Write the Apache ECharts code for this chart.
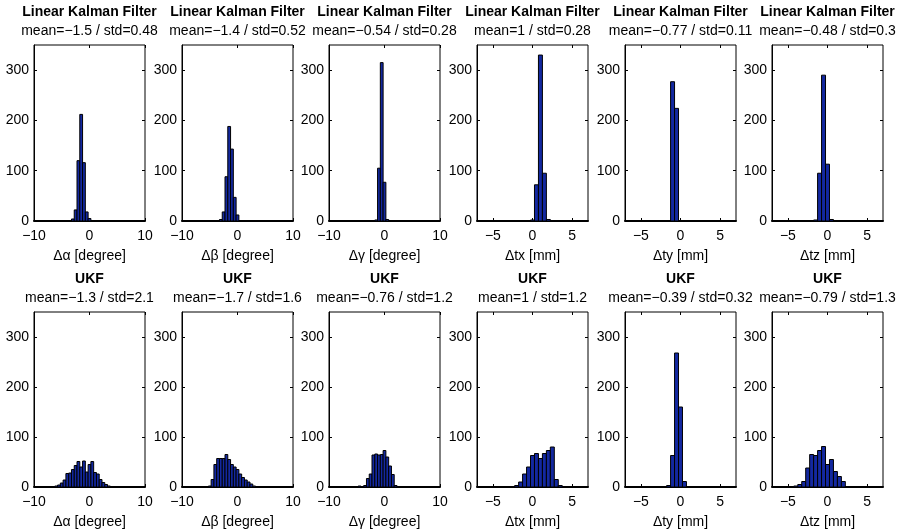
<!DOCTYPE html>
<html>
<head>
<meta charset="utf-8">
<title>Kalman filter error histograms</title>
<script src="https://cdn.jsdelivr.net/npm/echarts@6/dist/echarts.min.js"></script>
<style>
  html, body { margin: 0; padding: 0; background: #fff; }
  #chart { width: 905px; height: 530px; }
</style>
</head>
<body>
<div id="chart"></div>
<script>
// width of every histogram bin (degree or mm)
const binWidth = 0.5;

const rowTitles = ["Linear Kalman Filter", "UKF"];
const axisNames = ["Δα [degree]", "Δβ [degree]", "Δγ [degree]", "Δtx [mm]", "Δty [mm]", "Δtz [mm]"];
const lkfStats = ["mean=−1.5 / std=0.48", "mean=−1.4 / std=0.52", "mean=−0.54 / std=0.28",
                  "mean=1 / std=0.28", "mean=−0.77 / std=0.11", "mean=−0.48 / std=0.3"];
const ukfStats = ["mean=−1.3 / std=2.1", "mean=−1.7 / std=1.6", "mean=−0.76 / std=1.2",
                  "mean=1 / std=1.2", "mean=−0.39 / std=0.32", "mean=−0.79 / std=1.3"];

const angleTicks = [-10, 0, 10];
const transTicks = [-5, 0, 5];
const countTicks = [0, 100, 200, 300];

// Linear Kalman Filter: bin centres / counts
const lkfAlphaX = [-3, -2.5, -2, -1.5, -1, -0.5, 0];
const lkfAlphaN = [4, 22, 120, 212, 116, 18, 5];
const lkfBetaX = [-3, -2.5, -2, -1.5, -1, -0.5, 0];
const lkfBetaN = [3, 18, 88, 188, 143, 47, 12];
const lkfGammaX = [-1.5, -1, -0.5, 0, 0.5];
const lkfGammaN = [2, 105, 315, 77, 3];
const lkfTxX = [0, 0.5, 1, 1.5, 2];
const lkfTxN = [2, 72, 330, 95, 3];
const lkfTyX = [-1, -0.5];
const lkfTyN = [277, 224];
const lkfTzX = [-1.5, -1, -0.5, 0, 0.5];
const lkfTzN = [2, 95, 290, 113, 3];

// UKF: bin centres / counts
const ukfAlphaX = [-6.5, -6, -5.5, -5, -4.5, -4, -3.5, -3, -2.5, -2, -1.5, -1, -0.5, 0, 0.5, 1, 1.5, 2, 2.5, 3, 3.5];
const ukfAlphaN = [1, 2, 4, 8, 14, 27, 28, 35, 43, 51, 40, 52, 30, 45, 51, 29, 26, 15, 9, 5, 2];
const ukfBetaX = [-5, -4.5, -4, -3.5, -3, -2.5, -2, -1.5, -1, -0.5, 0, 0.5, 1, 1.5, 2, 2.5, 3];
const ukfBetaN = [2, 15, 45, 57, 57, 57, 65, 55, 45, 40, 35, 26, 19, 14, 10, 6, 2];
const ukfGammaX = [-4.5, -4, -3.5, -3, -2.5, -2, -1.5, -1, -0.5, 0, 0.5, 1, 1.5, 2];
const ukfGammaN = [2, 1, 3, 17, 26, 64, 66, 64, 65, 73, 60, 42, 25, 3];
const ukfTxX = [-2.5, -2, -1.5, -1, -0.5, 0, 0.5, 1, 1.5, 2, 2.5, 3, 3.5];
const ukfTxN = [1, 3, 10, 26, 40, 63, 67, 57, 67, 73, 80, 15, 3];
const ukfTyX = [-1.5, -1, -0.5, 0, 0.5];
const ukfTyN = [3, 63, 268, 160, 11];
const ukfTzX = [-4.5, -4, -3.5, -3, -2.5, -2, -1.5, -1, -0.5, 0, 0.5, 1, 1.5, 2, 2.5];
const ukfTzN = [1, 2, 5, 11, 38, 65, 63, 73, 81, 45, 55, 31, 21, 11, 1];

const panels = [
  [lkfAlphaX, lkfAlphaN], [lkfBetaX, lkfBetaN], [lkfGammaX, lkfGammaN],
  [lkfTxX, lkfTxN], [lkfTyX, lkfTyN], [lkfTzX, lkfTzN],
  [ukfAlphaX, ukfAlphaN], [ukfBetaX, ukfBetaN], [ukfGammaX, ukfGammaN],
  [ukfTxX, ukfTxN], [ukfTyX, ukfTyN], [ukfTzX, ukfTzN]
];
const stats = [lkfStats, ukfStats];

const font = "'Liberation Sans', Arial, Helvetica, sans-serif";
const barColor = "#1328a0";
const colLeft = [34, 182, 329, 477, 625, 772];
const plotW = 111;
const rowTop = [45, 312];
const rowH = [176, 175];

const minus = v => String(v).replace("-", "−");
const labelStyle = { color: "#000", fontSize: 14, fontFamily: font };

function renderBar(params, api) {
  const x = api.value(0);
  const n = api.value(1);
  const p0 = api.coord([x - binWidth / 2, n]);
  const p1 = api.coord([x + binWidth / 2, 0]);
  return {
    type: "rect",
    shape: { x: p0[0], y: p0[1], width: p1[0] - p0[0], height: p1[1] - p0[1] },
    style: { fill: barColor, stroke: "#000", lineWidth: 1 }
  };
}

const grid = [], xAxis = [], yAxis = [], series = [], graphic = [];

for (let r = 0; r < 2; r++) {
  for (let c = 0; c < 6; c++) {
    const k = r * 6 + c;
    const lim = c < 3 ? 10 : 7;
    const xt = c < 3 ? angleTicks : transTicks;
    const cx = colLeft[c] + plotW / 2;

    grid.push({
      left: colLeft[c], top: rowTop[r], width: plotW, height: rowH[r],
      show: true, borderColor: "#000", borderWidth: 1, backgroundColor: "#fff"
    });

    // bottom and top x axes
    xAxis.push({
      gridIndex: k, type: "value", min: -lim, max: lim, position: "bottom",
      name: axisNames[c], nameLocation: "middle", nameGap: 28,
      nameTextStyle: labelStyle,
      axisLine: { show: true, onZero: false, lineStyle: { color: "#000", width: 2 } },
      axisTick: { show: true, inside: true, length: 3, customValues: xt, lineStyle: { color: "#000" } },
      axisLabel: Object.assign({ customValues: xt, margin: 8, formatter: minus }, labelStyle),
      splitLine: { show: false }
    });
    xAxis.push({
      gridIndex: k, type: "value", min: -lim, max: lim, position: "top",
      axisLine: { show: false, onZero: false },
      axisTick: { show: true, inside: true, length: 3, customValues: xt, lineStyle: { color: "#000" } },
      axisLabel: { show: false },
      splitLine: { show: false }
    });

    // left and right y axes
    yAxis.push({
      gridIndex: k, type: "value", min: 0, max: 350, position: "left",
      axisLine: { show: true, onZero: false, lineStyle: { color: "#000" } },
      axisTick: { show: true, inside: true, length: 3, customValues: countTicks, lineStyle: { color: "#000" } },
      axisLabel: Object.assign({ customValues: countTicks, margin: 5 }, labelStyle),
      splitLine: { show: false }
    });
    yAxis.push({
      gridIndex: k, type: "value", min: 0, max: 350, position: "right",
      axisLine: { show: false, onZero: false },
      axisTick: { show: true, inside: true, length: 3, customValues: countTicks, lineStyle: { color: "#000" } },
      axisLabel: { show: false },
      splitLine: { show: false }
    });

    const xs = panels[k][0], ns = panels[k][1];
    series.push({
      type: "custom",
      xAxisIndex: 2 * k, yAxisIndex: 2 * k,
      encode: { x: 0, y: 1 },
      clip: true,
      data: xs.map((x, i) => [x, ns[i]]),
      renderItem: renderBar
    });

    graphic.push({
      type: "text", x: cx, y: rowTop[r] - 33,
      style: { text: rowTitles[r], font: "bold 14px " + font, textAlign: "center", textVerticalAlign: "middle", fill: "#000" }
    });
    graphic.push({
      type: "text", x: cx, y: rowTop[r] - 14,
      style: { text: stats[r][c], font: "14px " + font, textAlign: "center", textVerticalAlign: "middle", fill: "#000" }
    });
  }
}

const chart = echarts.init(document.getElementById("chart"));
chart.setOption({
  animation: false,
  backgroundColor: "#fff",
  grid: grid,
  xAxis: xAxis,
  yAxis: yAxis,
  series: series,
  graphic: graphic
});
</script>
</body>
</html>
